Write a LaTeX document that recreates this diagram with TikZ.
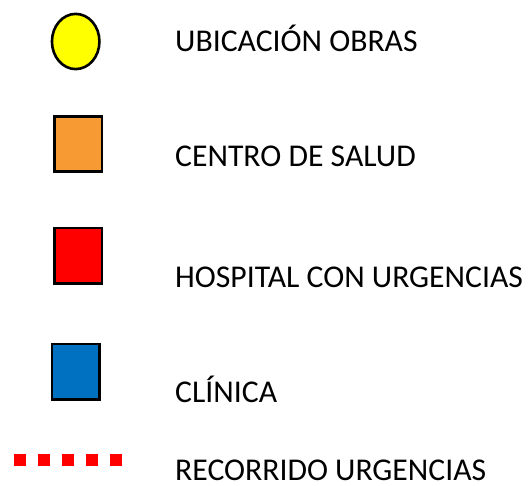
\documentclass[tikz,border=0pt]{standalone}
\usepackage{fontspec}
\setmainfont{Carlito}
\usetikzlibrary{shapes.geometric}
\definecolor{obra}{RGB}{255,255,0}
\definecolor{salud}{RGB}{247,154,52}
\definecolor{hosp}{RGB}{255,0,0}
\definecolor{clin}{RGB}{0,112,192}
\begin{document}
\begin{tikzpicture}[x=1pt,y=1pt,
  sym/.style={draw=black,line width=2.6pt,inner sep=0pt,minimum width=47.4pt,minimum height=55.4pt},
  lbl/.style={anchor=base west,inner sep=0pt,font=\fontsize{31.7}{38}\selectfont},
  dashsq/.style={fill=hosp,draw=none,inner sep=0pt,minimum width=12pt,minimum height=12pt}]
\useasboundingbox (0,0) rectangle (532,485);
\node[sym,ellipse,fill=obra,minimum width=47.5pt,minimum height=55.2pt] (obras) at (75.7,443.5) {};
\node[sym,rectangle,fill=salud] (salud) at (78.3,341) {};
\node[sym,rectangle,fill=hosp] (hosp) at (78.3,229.2) {};
\node[sym,rectangle,fill=clin] (clin) at (75.7,113.3) {};
\foreach \i/\x in {1/20,2/44,3/68,4/92,5/116}
  \node[dashsq] (rec\i) at (\x,25.5) {};
\node[lbl] (t1) at (175,433.3) {UBICACIÓN OBRAS};
\node[lbl] (t2) at (175,318.3) {CENTRO DE SALUD};
\node[lbl] (t3) at (175,197.3) {HOSPITAL CON URGENCIAS};
\node[lbl] (t4) at (175,82.3) {CLÍNICA};
\node[lbl] (t5) at (175,4.3) {RECORRIDO URGENCIAS};
\end{tikzpicture}
\end{document}
